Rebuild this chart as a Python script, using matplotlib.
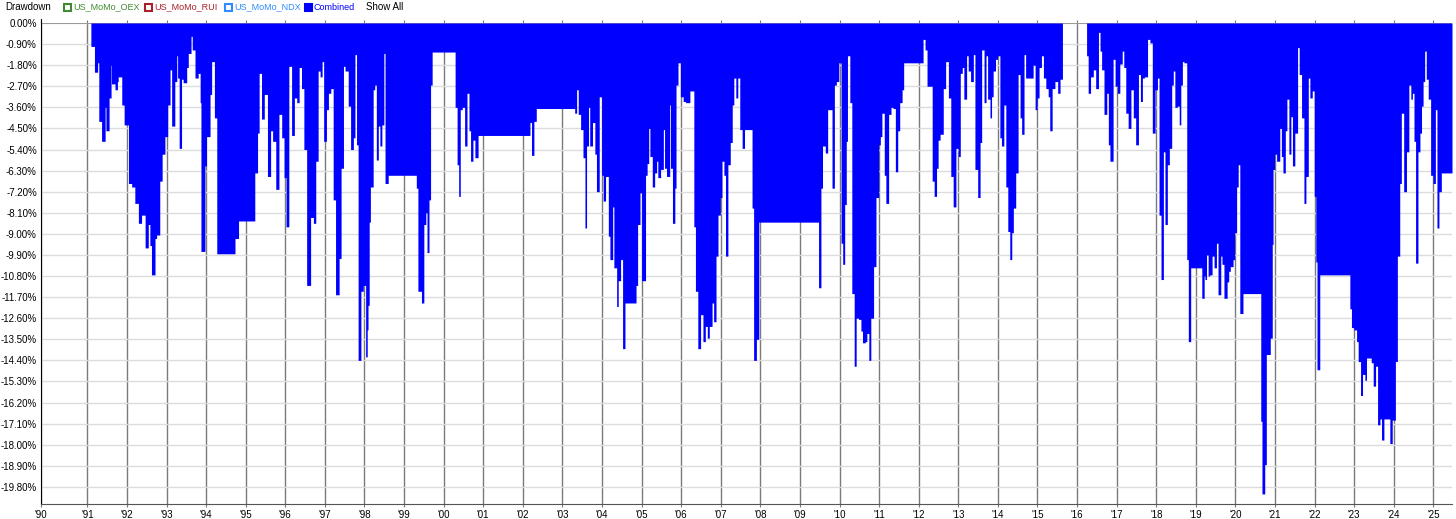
import numpy as np
import matplotlib
matplotlib.use("Agg")
import matplotlib.pyplot as plt
from matplotlib.patches import Rectangle

plt.rcParams['font.family'] = ['Liberation Sans', 'DejaVu Sans']
plt.rcParams['axes.unicode_minus'] = False

# drawdown of the combined system, % (step series, value holds until next date)
dates = [
    1991.09, 1991.18, 1991.26, 1991.29, 1991.36, 1991.45, 1991.47, 1991.55, 1991.60, 1991.61,
    1991.70, 1991.76, 1991.78, 1991.87, 1991.93, 1992.04, 1992.12, 1992.20, 1992.29, 1992.37,
    1992.46, 1992.54, 1992.58, 1992.62, 1992.71, 1992.75, 1992.83, 1992.89, 1992.96, 1993.03,
    1993.09, 1993.13, 1993.21, 1993.26, 1993.28, 1993.32, 1993.38, 1993.42, 1993.51, 1993.55,
    1993.62, 1993.65, 1993.72, 1993.80, 1993.85, 1993.87, 1993.97, 1994.01, 1994.10, 1994.14,
    1994.21, 1994.27, 1994.73, 1994.82, 1995.23, 1995.30, 1995.34, 1995.40, 1995.47, 1995.55,
    1995.63, 1995.68, 1995.76, 1995.84, 1995.91, 1995.97, 1996.02, 1996.09, 1996.16, 1996.23,
    1996.29, 1996.35, 1996.41, 1996.47, 1996.54, 1996.64, 1996.71, 1996.77, 1996.83, 1996.88,
    1996.93, 1996.97, 1997.04, 1997.09, 1997.15, 1997.21, 1997.27, 1997.36, 1997.41, 1997.47,
    1997.51, 1997.59, 1997.65, 1997.72, 1997.76, 1997.80, 1997.84, 1997.91, 1997.97, 1998.03,
    1998.07, 1998.09, 1998.12, 1998.15, 1998.22, 1998.26, 1998.30, 1998.35, 1998.39, 1998.44,
    1998.49, 1998.52, 1998.60, 1999.31, 1999.35, 1999.44, 1999.50, 1999.55, 1999.58, 1999.63,
    1999.67, 1999.71, 2000.29, 2000.34, 2000.38, 2000.42, 2000.47, 2000.53, 2000.59, 2000.64,
    2000.68, 2000.74, 2000.79, 2000.87, 2002.18, 2002.22, 2002.28, 2002.34, 2003.31, 2003.36,
    2003.40, 2003.46, 2003.52, 2003.57, 2003.61, 2003.66, 2003.69, 2003.76, 2003.82, 2003.86,
    2003.93, 2003.99, 2004.03, 2004.09, 2004.16, 2004.20, 2004.27, 2004.30, 2004.37, 2004.41,
    2004.47, 2004.52, 2004.58, 2004.86, 2004.90, 2004.96, 2005.00, 2005.10, 2005.14, 2005.18,
    2005.21, 2005.27, 2005.33, 2005.38, 2005.41, 2005.48, 2005.55, 2005.58, 2005.63, 2005.71,
    2005.73, 2005.78, 2005.84, 2005.87, 2005.92, 2005.98, 2006.05, 2006.11, 2006.22, 2006.32,
    2006.36, 2006.42, 2006.49, 2006.55, 2006.61, 2006.66, 2006.71, 2006.78, 2006.82, 2006.88,
    2006.93, 2006.99, 2007.03, 2007.08, 2007.12, 2007.18, 2007.24, 2007.29, 2007.33, 2007.38,
    2007.43, 2007.48, 2007.54, 2007.60, 2007.79, 2007.83, 2007.90, 2007.96, 2009.47, 2009.53,
    2009.57, 2009.64, 2009.70, 2009.75, 2009.81, 2009.87, 2009.92, 2009.98, 2010.04, 2010.08,
    2010.13, 2010.17, 2010.20, 2010.26, 2010.31, 2010.37, 2010.42, 2010.48, 2010.54, 2010.58,
    2010.65, 2010.69, 2010.74, 2010.79, 2010.86, 2010.92, 2010.99, 2011.03, 2011.07, 2011.13,
    2011.17, 2011.24, 2011.30, 2011.35, 2011.41, 2011.47, 2011.52, 2011.58, 2011.62, 2012.11,
    2012.16, 2012.21, 2012.34, 2012.39, 2012.45, 2012.49, 2012.54, 2012.62, 2012.68, 2012.75,
    2012.81, 2012.87, 2012.94, 2013.00, 2013.05, 2013.10, 2013.14, 2013.21, 2013.25, 2013.31,
    2013.38, 2013.42, 2013.49, 2013.55, 2013.59, 2013.65, 2013.70, 2013.74, 2013.80, 2013.84,
    2013.88, 2013.94, 2013.99, 2014.05, 2014.09, 2014.15, 2014.20, 2014.25, 2014.30, 2014.35,
    2014.39, 2014.45, 2014.51, 2014.56, 2014.60, 2014.66, 2014.70, 2014.89, 2014.94, 2014.99,
    2015.04, 2015.10, 2015.15, 2015.21, 2015.27, 2015.31, 2015.37, 2015.44, 2015.51, 2015.57,
    2015.63, 2016.24, 2016.28, 2016.34, 2016.41, 2016.47, 2016.54, 2016.58, 2016.62, 2016.68,
    2016.75, 2016.79, 2016.83, 2016.91, 2016.96, 2017.02, 2017.08, 2017.14, 2017.18, 2017.23,
    2017.29, 2017.36, 2017.42, 2017.48, 2017.55, 2017.60, 2017.65, 2017.70, 2017.78, 2017.84,
    2017.90, 2017.97, 2018.03, 2018.07, 2018.12, 2018.18, 2018.22, 2018.28, 2018.33, 2018.39,
    2018.43, 2018.47, 2018.53, 2018.58, 2018.62, 2018.66, 2018.70, 2018.77, 2018.81, 2018.87,
    2019.15, 2019.21, 2019.23, 2019.27, 2019.31, 2019.35, 2019.41, 2019.46, 2019.52, 2019.56,
    2019.63, 2019.66, 2019.71, 2019.79, 2019.83, 2019.87, 2019.94, 2019.98, 2020.03, 2020.07,
    2020.11, 2020.19, 2020.64, 2020.67, 2020.74, 2020.78, 2020.88, 2020.93, 2020.95, 2020.99,
    2021.04, 2021.12, 2021.16, 2021.20, 2021.26, 2021.30, 2021.35, 2021.40, 2021.44, 2021.50,
    2021.57, 2021.61, 2021.67, 2021.73, 2021.78, 2021.84, 2021.88, 2021.94, 2021.99, 2022.03,
    2022.06, 2022.13, 2022.89, 2022.93, 2022.99, 2023.06, 2023.10, 2023.16, 2023.21, 2023.27,
    2023.31, 2023.43, 2023.48, 2023.54, 2023.59, 2023.65, 2023.69, 2023.75, 2023.90, 2023.96,
    2024.04, 2024.09, 2024.15, 2024.19, 2024.25, 2024.32, 2024.38, 2024.43, 2024.47, 2024.51,
    2024.55, 2024.61, 2024.66, 2024.70, 2024.74, 2024.78, 2024.82, 2024.87, 2024.93, 2024.99,
    2025.05, 2025.09, 2025.14, 2025.20, 2025.47,
]
drawdown = [
    -1.0, -2.1, -1.7, -4.2, -5.05, -3.6, -4.6, -3.2, -1.8, -2.6,
    -2.85, -2.5, -2.3, -3.5, -4.35, -6.85, -7.0, -7.7, -8.55, -8.2,
    -9.6, -8.6, -9.5, -10.75, -9.2, -9.05, -6.75, -5.6, -4.85, -3.5,
    -2.0, -4.4, -2.5, -1.4, -2.35, -5.35, -2.4, -2.55, -1.9, -1.3,
    -0.57, -1.15, -2.35, -2.15, -3.4, -9.75, -6.1, -4.85, -3.05, -1.65,
    -4.05, -9.85, -9.2, -8.45, -6.4, -4.7, -2.15, -4.1, -3.05, -6.55,
    -4.6, -5.05, -7.1, -3.9, -4.9, -6.6, -8.7, -1.85, -4.8, -3.2,
    -3.4, -1.9, -2.8, -5.4, -11.2, -8.3, -8.55, -5.9, -2.05, -2.3,
    -1.65, -5.05, -3.7, -3.0, -2.8, -7.55, -11.6, -10.05, -6.2, -1.85,
    -2.05, -3.55, -5.4, -4.9, -1.35, -5.2, -14.4, -11.45, -11.2, -14.25,
    -13.1, -12.05, -8.5, -7.0, -2.85, -2.65, -5.85, -4.4, -5.25, -4.35,
    -1.3, -6.85, -6.5, -7.05, -11.45, -11.95, -8.6, -8.1, -9.8, -7.55,
    -2.65, -1.24, -3.6, -6.05, -7.4, -3.7, -3.6, -5.25, -3.0, -4.6,
    -5.9, -5.0, -5.75, -4.8, -4.25, -5.65, -4.2, -3.65, -3.85, -2.85,
    -3.9, -4.55, -5.75, -8.75, -5.25, -3.6, -5.25, -4.25, -5.6, -7.2,
    -3.15, -6.5, -7.6, -6.55, -9.1, -10.1, -7.85, -10.45, -12.1, -11.0,
    -10.1, -13.9, -11.95, -11.2, -8.6, -7.25, -11.0, -6.5, -6.0, -4.5,
    -5.7, -7.0, -6.4, -5.9, -6.6, -6.25, -4.55, -6.2, -6.55, -3.5,
    -6.2, -8.55, -7.05, -2.65, -1.7, -3.15, -3.35, -3.4, -2.9, -8.7,
    -11.45, -13.9, -12.45, -13.6, -12.95, -13.45, -12.95, -11.95, -12.75, -9.95,
    -8.2, -7.45, -5.9, -6.5, -9.95, -6.05, -5.1, -3.5, -2.35, -3.2,
    -2.35, -4.55, -5.35, -4.55, -7.9, -14.4, -13.5, -8.5, -11.3, -7.05,
    -5.25, -5.55, -3.7, -3.7, -7.05, -2.65, -2.5, -1.7, -9.4, -10.3,
    -7.75, -5.05, -1.4, -3.4, -11.55, -14.65, -12.6, -12.65, -13.15, -13.65,
    -13.6, -13.25, -14.4, -12.6, -10.4, -7.45, -5.2, -4.85, -3.85, -6.5,
    -7.7, -3.9, -3.6, -3.65, -6.35, -4.6, -3.4, -2.85, -1.7, -0.7,
    -1.15, -2.7, -6.75, -7.4, -6.2, -5.0, -4.75, -2.8, -1.65, -3.2,
    -6.55, -7.85, -5.35, -5.7, -2.15, -1.9, -3.25, -1.4, -2.05, -2.5,
    -1.35, -6.25, -7.45, -5.1, -1.15, -3.4, -1.4, -3.25, -4.05, -3.15,
    -2.05, -1.55, -1.4, -4.9, -5.25, -3.5, -7.0, -8.9, -10.1, -8.95,
    -7.9, -6.4, -2.2, -4.05, -4.75, -1.35, -2.35, -1.8, -3.7, -3.2,
    -1.9, -1.4, -2.35, -2.8, -3.15, -4.6, -2.8, -2.5, -3.0, -2.4,
    0.0, -1.4, -3.0, -2.3, -2.0, -2.8, -0.4, -1.2, -2.0, -3.9,
    -3.0, -5.2, -5.9, -1.55, -2.7, -3.0, -1.75, -1.2, -1.9, -3.85,
    -4.5, -2.85, -4.05, -5.2, -2.2, -3.35, -2.35, -2.3, -0.7, -0.85,
    -4.7, -2.85, -2.35, -8.2, -10.95, -5.5, -8.6, -6.05, -5.35, -2.65,
    -2.05, -3.6, -3.55, -4.35, -2.65, -1.65, -1.7, -10.1, -13.6, -10.45,
    -11.75, -10.8, -10.95, -9.9, -10.8, -10.75, -9.95, -10.45, -9.4, -11.6,
    -9.95, -10.3, -11.75, -11.05, -10.6, -10.4, -10.1, -8.95, -7.0, -6.05,
    -12.4, -11.55, -17.0, -20.1, -18.85, -14.15, -13.45, -9.45, -6.25, -5.6,
    -5.9, -4.5, -5.7, -6.4, -4.6, -3.25, -5.6, -4.0, -6.1, -4.7,
    -1.05, -2.2, -4.05, -7.7, -6.55, -2.35, -3.2, -2.9, -7.4, -10.2,
    -14.8, -10.75, -12.2, -13.0, -13.1, -13.6, -14.45, -15.9, -15.0, -15.25,
    -14.3, -14.5, -15.5, -14.65, -17.15, -16.9, -17.8, -16.9, -17.95, -16.95,
    -14.45, -9.95, -6.85, -3.85, -7.2, -5.5, -2.65, -3.25, -3.0, -5.05,
    -10.25, -5.5, -4.7, -3.55, -2.5, -1.2, -2.4, -3.25, -6.5, -6.85,
    -3.7, -8.75, -7.2, -6.4, -6.4,
]

year_ticks = list(range(1991, 2026))
year_labels = ["'%02d" % (y % 100) for y in year_ticks]
y_ticks = np.round(np.arange(0, -20.0, -0.9), 2)

legend_items = [
    ("US_MoMo_OEX", "#3f8a2e", False),
    ("US_MoMo_RUI", "#a8202c", False),
    ("US_MoMo_NDX", "#2f8cff", False),
    ("Combined", "#0000ff", True),
]

W, H = 1456, 519
fig = plt.figure(figsize=(W / 100, H / 100), dpi=100)
ax = fig.add_axes([41 / W, 15 / H, 1411 / W, 481 / H])

x_left = 1989.83
ax.set_xlim(x_left, 2025.47)
ax.set_ylim(-20.53, 0)

ax.fill_between(dates, drawdown, 0, step='post', color='#0000ff', lw=0, zorder=3)
ax.axhline(0, color='#8c8c8c', lw=1.2, zorder=2)

ax.set_xticks([x_left] + year_ticks)
ax.set_xticklabels(["'90"] + year_labels)
ax.set_yticks(y_ticks)
ax.set_yticklabels(["%.2f%%" % (0.0 if v == 0 else v) for v in y_ticks])

ax.xaxis.grid(True, color='#7a7a7a', lw=1.0, zorder=1)
ax.yaxis.grid(True, color='#dcdcdc', lw=1.0, zorder=0)
ax.set_axisbelow(True)

ax.tick_params(axis='x', which='both', top=True, bottom=True, direction='out',
               length=2, color='#7a7a7a', labelsize=7, pad=2)
ax.tick_params(axis='y', length=0, labelsize=7, pad=3)

for s in ['top', 'right']:
    ax.spines[s].set_visible(False)
ax.spines['left'].set_color('black')
ax.spines['bottom'].set_color('#555555')
ax.spines['left'].set_bounds(-20.53, 0.15)

# legend row at the top
fig.text(5 / W, 1 - 7 / H, "Drawdown", fontsize=7, va='center', ha='left', color='black')
x0 = [64, 145, 225, 305]
for (name, col, filled), xs in zip(legend_items, x0):
    fig.add_artist(Rectangle((xs / W, 1 - 10.5 / H), 6.5 / W, 6.5 / H, transform=fig.transFigure,
                             facecolor=col if filled else 'white', edgecolor=col, lw=1.5))
    fig.text((xs + 9) / W, 1 - 7 / H, name, fontsize=6.5, va='center', ha='left', color=col)
fig.text(366 / W, 1 - 7 / H, "Show All", fontsize=7, va='center', ha='left', color='black')

fig.savefig("out.png", dpi=100)
